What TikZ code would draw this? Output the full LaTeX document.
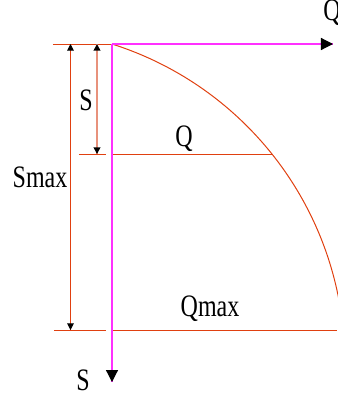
\documentclass[tikz,border=0pt]{standalone}
\usepackage{fontspec}
\setmainfont{Liberation Serif}
\usepackage{graphicx}
\usetikzlibrary{arrows.meta, decorations.markings}
\definecolor{curvered}{HTML}{E04010}
\definecolor{salmon}{HTML}{E8927C}
\definecolor{axispink}{HTML}{FF30FF}
\newcommand{\tallt}[1]{\scalebox{1}[1.3]{#1}}
\tikzset{
  endtip/.style={postaction={decorate, decoration={markings,
      mark=at position 1 with {\arrow{Triangle[length=#1, width=#1, black]}}}}},
  starttip/.style={postaction={decorate, decoration={markings,
      mark=at position 0 with {\arrowreversed{Triangle[length=#1, width=#1, black]}}}}},
  axisline/.style={axispink, line width=0.9pt, endtip=9pt},
  dimline/.style={curvered, line width=0.75pt, starttip=5pt, endtip=5pt},
  sline/.style={salmon, line width=1.6pt, starttip=5pt, endtip=5pt},
  refline/.style={curvered, line width=0.75pt},
  curveline/.style={curvered, line width=0.75pt},
  lbl/.style={font=\fontsize{18}{20}\selectfont, inner sep=0pt},
}
\begin{document}
\begin{tikzpicture}[x=0.75pt, y=-0.75pt]
  \useasboundingbox (0,0) rectangle (337,394);

  % reference points
  \coordinate (O) at (112,44);
  \coordinate (Qtip) at (333,44);
  \coordinate (Stip) at (112,382);
  \coordinate (topL) at (53,44);
  \coordinate (smaxT) at (70.5,44);
  \coordinate (smaxB) at (70.5,330);
  \coordinate (sT) at (97,44);
  \coordinate (sB) at (97,154);
  \coordinate (qL) at (79,154.5);
  \coordinate (qM) at (106,154.5);
  \coordinate (qA) at (113,154.5);
  \coordinate (qR) at (272,154.5);
  \coordinate (qmL) at (54,330.5);
  \coordinate (qmM) at (106,330.5);
  \coordinate (qmA) at (113,330.5);
  \coordinate (qmR) at (337,330.5);

  % level lines
  \draw[refline] (topL) -- (O);
  \draw[refline] (qL) -- (qM);
  \draw[refline] (qA) -- (qR);
  \draw[refline] (qmL) -- (qmM);
  \draw[refline] (qmA) -- (qmR);

  % characteristic curve
  \draw[curveline] (O) arc[start angle=-72.4, end angle=-10.5, radius=333.7];

  % dimensions
  \draw[dimline] (smaxT) -- (smaxB);
  \draw[sline] (sT) -- (sB);

  % axes
  \draw[axisline] (O) -- (Qtip);
  \draw[axisline] (O) -- (Stip);

  % labels
  \node[lbl] (labS) at (86,100) {\tallt{S}};
  \node[lbl] (labQ) at (184,139) {\tallt{Q}};
  \node[lbl] (labSmax) at (40,177) {\tallt{Smax}};
  \node[lbl] (labQmax) at (210,309) {\tallt{Qmax}};
  \node[lbl] (labSaxis) at (83,380) {\tallt{S}};
  \node[lbl] (labQaxis) at (332,13) {\tallt{Q}};
\end{tikzpicture}
\end{document}
